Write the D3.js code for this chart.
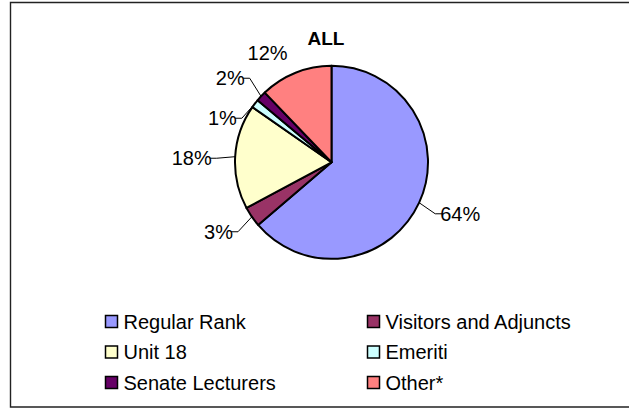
<!DOCTYPE html>
<html>
<head>
<meta charset="utf-8">
<script src="https://cdn.jsdelivr.net/npm/d3@7"></script>
<style>
  html, body { margin: 0; padding: 0; background: #fff; }
  svg { display: block; }
  text { font-family: "Liberation Sans", Arial, sans-serif; }
</style>
</head>
<body>
<svg id="chart" width="629" height="409"></svg>
<script>
const title = "ALL";
const categories = ["Regular Rank", "Visitors and Adjuncts", "Unit 18", "Emeriti", "Senate Lecturers", "Other*"];
const values = [63.75, 3.4, 17.55, 1.4, 1.75, 12.15];
const colors = ["#9999FF", "#993366", "#FFFFCC", "#CCFFFF", "#660066", "#FF8080"];

const W = 629, H = 409;
const cx = 331.5, cy = 162.3, R = 96.5;
const svg = d3.select("#chart");

// frame (open on the right, as in the reference)
svg.append("path")
  .attr("d", `M${W + 2},2.5 H10.5 V407 H${W + 2}`)
  .attr("fill", "none").attr("stroke", "#222").attr("stroke-width", 1.4);

// title
svg.append("text")
  .attr("x", 326).attr("y", 44.5)
  .attr("text-anchor", "middle")
  .attr("font-weight", "bold").attr("font-size", 19)
  .text(title);

const data = categories.map((c, i) => ({ name: c, value: values[i], color: colors[i] }));
const pie = d3.pie().sort(null).value(d => d.value);
const arcs = pie(data);
const arc = d3.arc().innerRadius(0).outerRadius(R);

const g = svg.append("g").attr("transform", `translate(${cx},${cy})`);
g.selectAll("path.slice").data(arcs).join("path")
  .attr("class", "slice")
  .attr("d", arc)
  .attr("fill", d => d.data.color)
  .attr("stroke", "#000").attr("stroke-width", 2)
  .attr("stroke-linejoin", "round");

// labels
const fmt = v => d3.format(".0f")(v) + "%";
const labels = arcs.map(d => {
  const mid = (d.startAngle + d.endAngle) / 2;
  const s = Math.sin(mid), c = Math.cos(mid);
  const side = s < 0 ? -1 : 1;
  const top = Math.abs(s) < 0.5;
  const r = top ? 118 : 123;
  return {
    d, side, top,
    ex: R * s, ey: -R * c,
    ax: r * s, ay: -r * c,
    text: fmt(d.data.value)
  };
});

const lg = g.append("g");
labels.forEach(l => {
  l.node = lg.append("text")
    .attr("font-size", 20)
    .attr("text-anchor", l.side < 0 ? "end" : "start")
    .attr("x", l.ax + (l.top ? 0 : -3 * l.side))
    .attr("dy", "0.35em")
    .text(l.text);
  const w = l.node.node().getComputedTextLength();
  l.x0 = l.side < 0 ? l.ax - w - 3 : l.ax;
  l.x1 = l.side < 0 ? l.ax : l.ax + w + 3;
});

// simple vertical collision resolution per side
const gap = 40;
[-1, 1].forEach(sd => {
  const group = labels.filter(l => l.side === sd).sort((a, b) => a.ay - b.ay);
  group.forEach((l, i) => {
    for (let j = 0; j < i; j++) {
      const o = group[j];
      const overlapX = l.x0 < o.x1 && o.x0 < l.x1;
      if (overlapX && l.ay - o.ay < gap) l.ay = o.ay + gap;
    }
  });
});

labels.forEach(l => {
  l.node.attr("y", l.ay);
  if (!l.top) {
    const s = l.side;
    lg.append("polyline")
      .attr("points", [[l.ex, l.ey], [l.ax - 8 * s, l.ay], [l.ax - 1 * s, l.ay]].map(p => p.join(",")).join(" "))
      .attr("fill", "none").attr("stroke", "#000").attr("stroke-width", 1);
  }
});

// legend
const legX = [105.5, 367.5], legY0 = 321.5, legDY = 30.5;
const leg = svg.append("g");
data.forEach((d, i) => {
  const x = legX[i % 2], y = legY0 + Math.floor(i / 2) * legDY;
  leg.append("rect")
    .attr("x", x).attr("y", y - 6)
    .attr("width", 12).attr("height", 12)
    .attr("fill", d.color).attr("stroke", "#000").attr("stroke-width", 1.5);
  leg.append("text")
    .attr("x", x + 18).attr("y", y).attr("dy", "0.35em")
    .attr("font-size", 20)
    .text(d.name);
});
</script>
</body>
</html>
